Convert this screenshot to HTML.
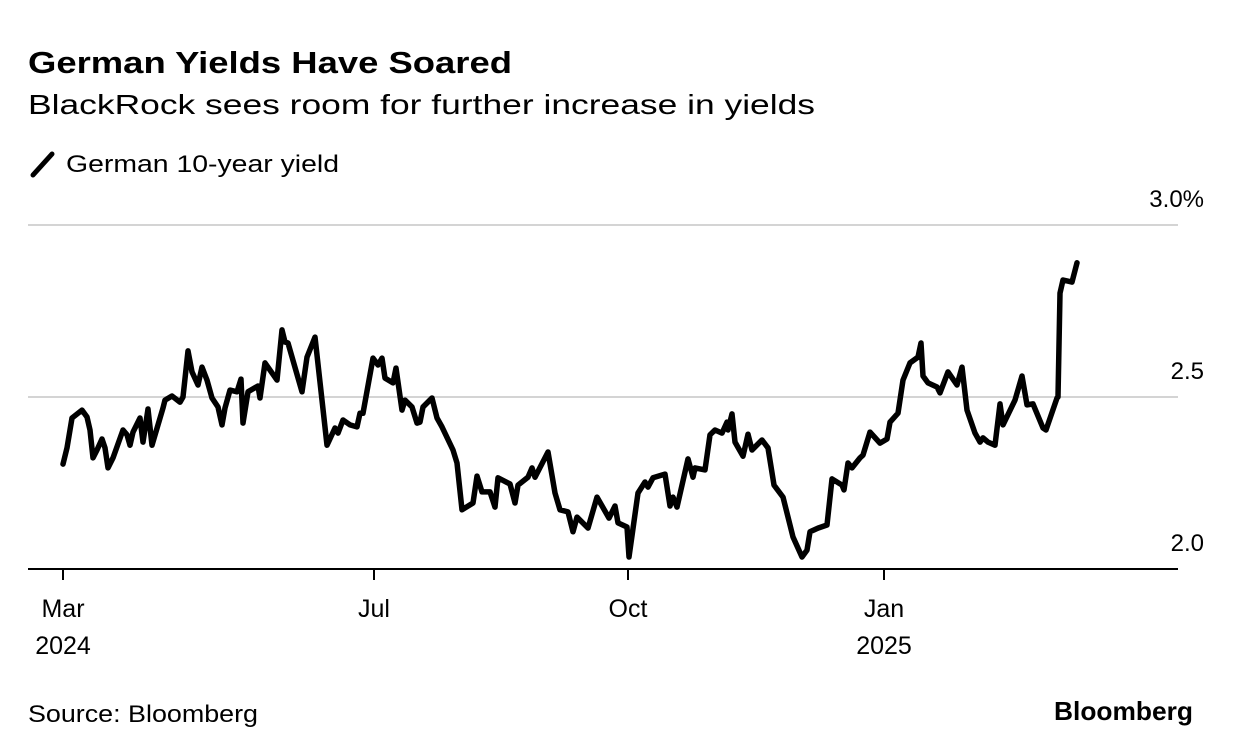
<!DOCTYPE html>
<html><head><meta charset="utf-8"><style>
html,body{margin:0;padding:0;background:#fff;}
svg{display:block;font-family:"Liberation Sans",Arial,sans-serif;}
</style></head><body>
<svg id="chart" width="1233" height="754" viewBox="0 0 1233 754">
<text x="28" y="73" font-size="31" font-weight="bold" textLength="484" lengthAdjust="spacingAndGlyphs">German Yields Have Soared</text>
<text x="28" y="114" font-size="28" textLength="787" lengthAdjust="spacingAndGlyphs">BlackRock sees room for further increase in yields</text>
<line x1="33" y1="175" x2="52" y2="154" stroke="#000" stroke-width="5" stroke-linecap="round"/>
<text x="66" y="172" font-size="24" textLength="273" lengthAdjust="spacingAndGlyphs">German 10-year yield</text>
<g id="grid"></g>
<g id="xaxis"></g>
<path id="line" fill="none" stroke="#000" stroke-width="5.5" stroke-linejoin="round" stroke-linecap="round"/>
<text x="28" y="722" font-size="24" textLength="230" lengthAdjust="spacingAndGlyphs">Source: Bloomberg</text>
<text x="1193" y="720" font-size="26" font-weight="bold" text-anchor="end" textLength="139" lengthAdjust="spacingAndGlyphs">Bloomberg</text>
</svg>
<script>
const days = [0,1,2.25,4.75,6,6.75,7.5,8.5,9.75,10.5,11.25,12.5,15,16,16.75,17.5,19.25,20,21.25,22.25,25,25.5,27.25,29.25,30,31.25,32.25,33.75,34.75,36,37.25,38.75,39.75,40.5,41.75,43.5,44.5,45,46.25,48.75,49.25,50.5,53.5,54.75,55.5,56.25,59.75,61,63,66,68,68.75,70,71.75,73.5,74.25,75,77.5,78.75,79.75,80.5,82.5,83.25,84.75,85.5,87.25,88.5,89.25,90,92.25,93.5,94.75,97.5,98.5,99.75,102.5,103.5,104.75,106.75,108,108.75,111.75,113,113.75,116.25,117.25,118,121.25,123,124.25,126.25,127.5,128.5,131.25,133.5,136.5,138,138.75,141,141.5,143.75,145.5,146.25,147.5,150.5,151.75,152.5,153.5,156.25,157.5,158,160.5,161.75,163,164.75,166,166.25,167.25,168,170,171.25,172.25,174.75,176.25,177.75,180,182.5,184.75,186,186.75,188.75,191,192.25,194.75,195.25,196.25,197.25,199.25,200,201.75,204.25,206,206.75,208.75,210,211.75,213.75,214.5,215,216.25,218.5,219.25,221.25,223.5,224.75,226,228,229.25,230,231.25,233,234.25,235,238,239.75,241,242.5,245,245.75,248.5,248.75,249.25,250,252.25,253.5];
const yields = [2.305,2.352,2.439,2.462,2.442,2.404,2.323,2.346,2.378,2.352,2.294,2.323,2.404,2.390,2.360,2.398,2.439,2.369,2.465,2.360,2.468,2.491,2.503,2.485,2.5,2.634,2.573,2.535,2.587,2.549,2.497,2.471,2.419,2.468,2.520,2.515,2.552,2.424,2.515,2.532,2.497,2.599,2.549,2.695,2.660,2.657,2.515,2.616,2.674,2.360,2.410,2.395,2.433,2.419,2.413,2.453,2.453,2.613,2.593,2.613,2.555,2.541,2.584,2.462,2.491,2.471,2.424,2.427,2.471,2.497,2.439,2.413,2.346,2.308,2.172,2.192,2.270,2.224,2.224,2.180,2.265,2.247,2.192,2.244,2.267,2.294,2.267,2.340,2.221,2.172,2.166,2.108,2.151,2.119,2.209,2.148,2.183,2.134,2.122,2.035,2.221,2.253,2.238,2.265,2.276,2.183,2.209,2.180,2.320,2.267,2.294,2.288,2.390,2.404,2.395,2.427,2.404,2.451,2.369,2.328,2.392,2.346,2.375,2.352,2.244,2.209,2.093,2.035,2.055,2.108,2.119,2.128,2.262,2.244,2.230,2.308,2.294,2.323,2.331,2.398,2.366,2.378,2.427,2.453,2.549,2.599,2.616,2.657,2.561,2.541,2.529,2.512,2.573,2.535,2.587,2.462,2.395,2.369,2.381,2.369,2.360,2.480,2.419,2.491,2.561,2.477,2.480,2.410,2.404,2.497,2.5,2.802,2.840,2.834,2.890];
const yTicks = [2.0, 2.5, 3.0];
const yTickLabels = ["2.0", "2.5", "3.0%"];
const xTickDays = [0, 77.75, 141.25, 205.25];
const xTickMonths = ["Mar", "Jul", "Oct", "Jan"];
const xTickYears = ["2024", "", "", "2025"];

const NS = "http://www.w3.org/2000/svg";
const X0 = 63, PXD = 4;
const xs = d => X0 + d * PXD;
const ys = v => 569 - (v - 2.0) * 344;
function mk(tag, attrs, parent){const e=document.createElementNS(NS,tag);for(const k in attrs)e.setAttribute(k,attrs[k]);parent.appendChild(e);return e;}

const grid = document.getElementById('grid');
yTicks.forEach((t,i)=>{
  const y = ys(t);
  if (i>0){
    const l = mk('line',{x1:28,x2:1178,y1:y,y2:y,stroke:'#d4d4d4','stroke-width':2},grid);
    
    
  }
  const tx = mk('text',{x:1204,y:y-18,'font-size':24,'text-anchor':'end'},grid);
  tx.textContent = yTickLabels[i];
  
  
});
const xa = document.getElementById('xaxis');
const ax = mk('line',{x1:28,x2:1178,y1:569,y2:569,stroke:'#000','stroke-width':2},xa);


xTickDays.forEach((d,i)=>{
  const x = xs(d);
  const t = mk('line',{x1:x,x2:x,y1:569,y2:580,stroke:'#000','stroke-width':2},xa);
  
  
  const m = mk('text',{x:x,y:617,'font-size':25,'text-anchor':'middle'},xa);
  m.textContent = xTickMonths[i];
  
  
  if (xTickYears[i]){
    const yv = mk('text',{x:x,y:654,'font-size':25,'text-anchor':'middle'},xa);
    yv.textContent = xTickYears[i];
    
    
  }
});
document.getElementById('line').setAttribute('d', days.map((d,i)=>(i?'L':'M')+xs(d).toFixed(1)+','+ys(yields[i]).toFixed(1)).join(''));
</script>
</body></html>
